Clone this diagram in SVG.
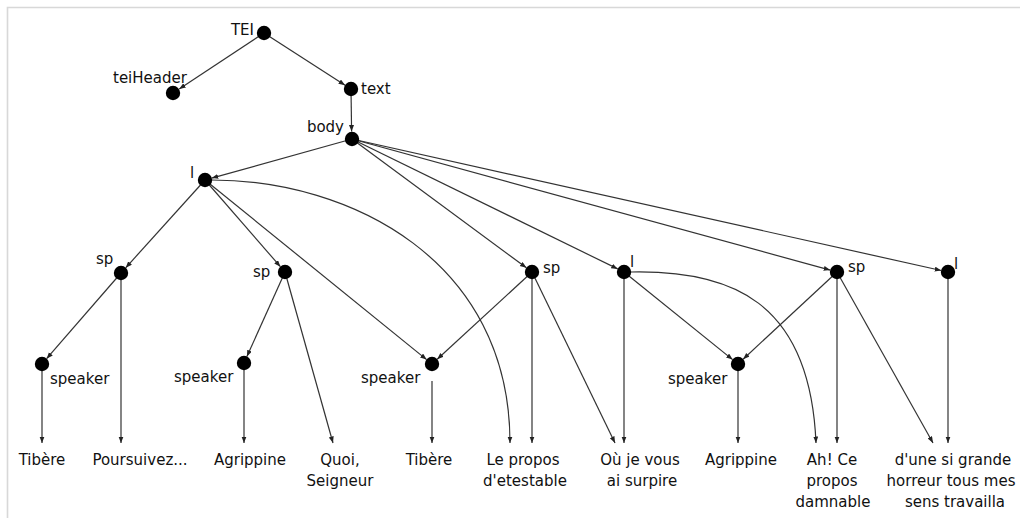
<svg xmlns="http://www.w3.org/2000/svg" width="1020" height="518" viewBox="0 0 1020 518">
  <style>
    .frame { fill: none; stroke: #d8d8d8; stroke-width: 1.6; }
    .node circle { fill: #000; }
    .lbl { font-family: "DejaVu Sans", Verdana, sans-serif; font-size: 15px; fill: #111; }
    .leaf { text-anchor: middle; }
    .end { text-anchor: end; }
    #edges path, #edges line { fill: none; stroke: #333; stroke-width: 1.2; marker-end: url(#arrow); }
  </style>
  <defs>
    <marker id="arrow" markerWidth="7" markerHeight="6" refX="6.5" refY="2.5" orient="auto" markerUnits="userSpaceOnUse">
      <path d="M0,0 L6.5,2.5 L0,5 z" fill="#222"/>
    </marker>
  </defs>

  <rect width="1020" height="518" fill="#fff"/>
  <!-- panel edge: top and left -->
  <path class="frame" d="M7.5,518 V7.5 H1020"/>

  <g id="edges">
    <line x1="264" y1="33" x2="179.2" y2="88.9"/>
    <line x1="264" y1="33" x2="345.1" y2="85.2"/>
    <line x1="351" y1="89" x2="351.6" y2="131.5"/>
    <line x1="352" y1="139" x2="211.7" y2="178.1"/>
    <line x1="352" y1="139" x2="526.4" y2="267.8"/>
    <line x1="352" y1="139" x2="617.7" y2="268.9"/>
    <line x1="352" y1="139" x2="830.2" y2="270.1"/>
    <line x1="352" y1="139" x2="941.2" y2="270.5"/>
    <line x1="205" y1="180" x2="125.7" y2="267.8"/>
    <line x1="205" y1="180" x2="280.4" y2="266.7"/>
    <line x1="205" y1="180" x2="426.6" y2="359.6"/>
    <path d="M212,180 C350,180 510,260 510,443"/>
    <line x1="121" y1="273" x2="46.6" y2="358.7"/>
    <line x1="121" y1="273" x2="121" y2="443"/>
    <line x1="285" y1="272" x2="246.9" y2="356.6"/>
    <line x1="285" y1="272" x2="333" y2="443"/>
    <line x1="532" y1="272" x2="437.2" y2="359.3"/>
    <line x1="532" y1="272" x2="532" y2="443"/>
    <line x1="532" y1="272" x2="615" y2="443"/>
    <line x1="624" y1="272" x2="624" y2="443"/>
    <line x1="624" y1="272" x2="732.6" y2="359.6"/>
    <path d="M631,272 C730,270 810,300 816,443"/>
    <line x1="837" y1="272" x2="743.1" y2="359.2"/>
    <line x1="837" y1="272" x2="837" y2="443"/>
    <line x1="837" y1="272" x2="933" y2="443"/>
    <line x1="948" y1="272" x2="948" y2="443"/>
    <line x1="42" y1="364" x2="42" y2="443"/>
    <line x1="244" y1="363" x2="244" y2="443"/>
    <line x1="432" y1="381" x2="432" y2="443"/>
    <line x1="738" y1="364" x2="738" y2="443"/>
  </g>

  <g id="n-tei" class="node"><circle cx="264" cy="33" r="7.2"/><text class="lbl end" x="254" y="35">TEI</text></g>
  <g id="n-teiheader" class="node"><circle cx="173" cy="93" r="7.2"/><text class="lbl" x="113" y="83">teiHeader</text></g>
  <g id="n-text" class="node"><circle cx="351" cy="89" r="7.2"/><text class="lbl" x="361" y="94">text</text></g>
  <g id="n-body" class="node"><circle cx="352" cy="139" r="7.2"/><text class="lbl end" x="344" y="132">body</text></g>
  <g id="n-l1" class="node"><circle cx="205" cy="180" r="7.2"/><text class="lbl" x="190" y="178">l</text></g>
  <g id="n-sp1" class="node"><circle cx="121" cy="273" r="7.2"/><text class="lbl" x="96" y="264">sp</text></g>
  <g id="n-sp2" class="node"><circle cx="285" cy="272" r="7.2"/><text class="lbl" x="253" y="277">sp</text></g>
  <g id="n-sp3" class="node"><circle cx="532" cy="272" r="7.2"/><text class="lbl" x="543" y="273">sp</text></g>
  <g id="n-l2" class="node"><circle cx="624" cy="272" r="7.2"/><text class="lbl" x="630" y="267">l</text></g>
  <g id="n-sp4" class="node"><circle cx="837" cy="272" r="7.2"/><text class="lbl" x="848" y="272">sp</text></g>
  <g id="n-l3" class="node"><circle cx="948" cy="272" r="7.2"/><text class="lbl" x="954" y="269">l</text></g>
  <g id="n-speaker1" class="node"><circle cx="42" cy="364" r="7.2"/><text class="lbl" x="50" y="384">speaker</text></g>
  <g id="n-speaker2" class="node"><circle cx="244" cy="363" r="7.2"/><text class="lbl" x="174" y="382">speaker</text></g>
  <g id="n-speaker3" class="node"><circle cx="432" cy="364" r="7.2"/><text class="lbl" x="361" y="383">speaker</text></g>
  <g id="n-speaker4" class="node"><circle cx="738" cy="364" r="7.2"/><text class="lbl" x="668" y="384">speaker</text></g>

  <g id="leaf-1"><text class="lbl leaf" x="42" y="465">Tibère</text></g>
  <g id="leaf-2"><text class="lbl leaf" x="140" y="465">Poursuivez...</text></g>
  <g id="leaf-3"><text class="lbl leaf" x="250" y="465">Agrippine</text></g>
  <g id="leaf-4"><text class="lbl leaf" x="340" y="465">Quoi,</text><text class="lbl leaf" x="340" y="486">Seigneur</text></g>
  <g id="leaf-5"><text class="lbl leaf" x="429" y="465">Tibère</text></g>
  <g id="leaf-6"><text class="lbl leaf" x="523" y="465">Le propos</text><text class="lbl leaf" x="525" y="486">d'etestable</text></g>
  <g id="leaf-7"><text class="lbl leaf" x="640" y="465">Où je vous</text><text class="lbl leaf" x="642" y="486">ai surpire</text></g>
  <g id="leaf-8"><text class="lbl leaf" x="741" y="465">Agrippine</text></g>
  <g id="leaf-9"><text class="lbl leaf" x="832" y="465">Ah! Ce</text><text class="lbl leaf" x="832" y="486">propos</text><text class="lbl leaf" x="833" y="507">damnable</text></g>
  <g id="leaf-10"><text class="lbl leaf" x="953" y="465">d'une si grande</text><text class="lbl leaf" x="951" y="486">horreur tous mes</text><text class="lbl leaf" x="955" y="507">sens travailla</text></g>
</svg>
